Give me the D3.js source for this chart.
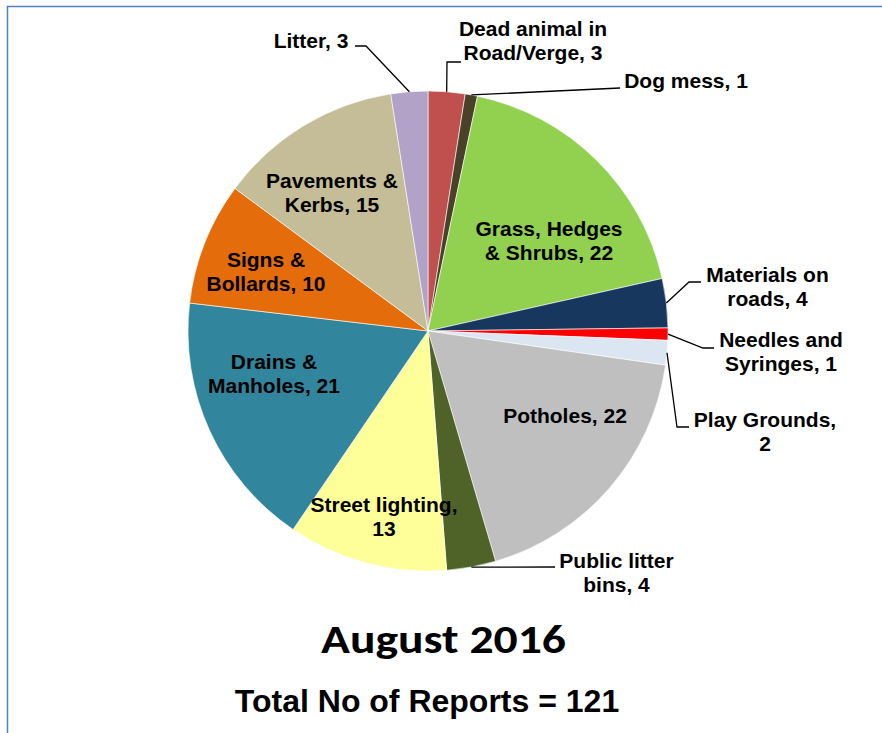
<!DOCTYPE html>
<html>
<head>
<meta charset="utf-8">
<script src="https://cdn.jsdelivr.net/npm/d3@7"></script>
<style>
  body { margin: 0; background: #fff; }
  svg { display: block; }
</style>
</head>
<body>
<div id="vis"></div>
<script>
// report counts per category, in chart order (clockwise from 12 o'clock)
const categories = ['Dead animal in Road/Verge', 'Dog mess', 'Grass, Hedges & Shrubs', 'Materials on roads',
    'Needles and Syringes', 'Play Grounds', 'Potholes', 'Public litter bins', 'Street lighting',
    'Drains & Manholes', 'Signs & Bollards', 'Pavements & Kerbs', 'Litter']
const counts = [3, 1, 22, 4, 1, 2, 22, 4, 13, 21, 10, 15, 3]
const sliceColors = ['#C0504D', '#4A4129', '#92D050', '#17375E', '#FF0000', '#DCE6F2', '#BFBFBF',
    '#4F6228', '#FFFF99', '#31859C', '#E46C0A', '#C4BD97', '#B3A2C7']
const title = 'August 2016'
const subtitle = 'Total No of Reports = ' + d3.sum(counts)

// label placement (x = centre, y = first baseline, words = words on first line, leader = bend points)
const labelLayout = {
    'Dead animal in Road/Verge': {x: 533, y: 36, words: 3, leader: [[447, 62], [461, 62]]},
    'Dog mess': {x: 686, y: 88, leader: [[620, 88]]},
    'Grass, Hedges & Shrubs': {x: 549, y: 236, words: 2},
    'Materials on roads': {x: 767.5, y: 282, words: 2, leader: [[689, 282], [701, 282]]},
    'Needles and Syringes': {x: 781, y: 347, words: 2, leader: [[703, 348], [714, 348]]},
    'Play Grounds': {x: 765, y: 427, words: 2, leader: [[677, 427], [689, 427]]},
    'Potholes': {x: 565, y: 423},
    'Public litter bins': {x: 616.5, y: 568, words: 2, leader: [[555, 567]]},
    'Street lighting': {x: 384, y: 512, words: 2},
    'Drains & Manholes': {x: 274, y: 368.5, words: 2},
    'Signs & Bollards': {x: 266, y: 267, words: 2},
    'Pavements & Kerbs': {x: 332, y: 188, words: 2},
    'Litter': {x: 311, y: 48, leader: [[366, 46], [355, 46]]}
}

const W = 882, H = 733
const cx = 428, cy = 331, radius = 240
const lineHeight = 24

const svg = d3.select('#vis').append('svg')
    .attr('width', W)
    .attr('height', H)

// chart frame (runs off the right and bottom edges)
svg.append('rect')
    .attr('x', 7.5).attr('y', 6.5)
    .attr('width', 1000).attr('height', 1000)
    .attr('fill', 'none')
    .attr('stroke', '#4F81BD')
    .attr('stroke-width', 1.5)

const colorScale = d3.scaleOrdinal().domain(categories).range(sliceColors)

const data = categories.map((c, i) => ({category: c, value: counts[i]}))
const pie = d3.pie().sort(null).value(d => d.value)
const arcs = pie(data)
const arc = d3.arc().innerRadius(0).outerRadius(radius)

const g = svg.append('g').attr('transform', `translate(${cx},${cy})`)

g.selectAll('path.slice')
    .data(arcs)
    .enter()
    .append('path')
    .attr('class', 'slice')
    .attr('d', arc)
    .attr('fill', d => colorScale(d.data.category))
    .attr('stroke', '#fff')
    .attr('stroke-width', 0.6)

// leader lines start on the rim at each slice's mid angle
const rimPoint = d => {
    const a = (d.startAngle + d.endAngle) / 2
    return [cx + radius * Math.sin(a), cy - radius * Math.cos(a)]
}

svg.selectAll('path.leader')
    .data(arcs.filter(d => labelLayout[d.data.category].leader))
    .enter()
    .append('path')
    .attr('class', 'leader')
    .attr('d', d => d3.line()([rimPoint(d)].concat(labelLayout[d.data.category].leader)))
    .attr('fill', 'none')
    .attr('stroke', '#000')
    .attr('stroke-width', 1.3)

const labels = svg.selectAll('text.lab')
    .data(arcs)
    .enter()
    .append('text')
    .attr('class', 'lab')
    .attr('text-anchor', 'middle')
    .attr('font-family', "'Liberation Sans', Arial, sans-serif")
    .attr('font-weight', 'bold')
    .attr('font-size', '21px')
    .attr('fill', '#000')

labels.each(function (d) {
    const lay = labelLayout[d.data.category]
    const words = (d.data.category + ', ' + d.data.value).split(' ')
    const n = lay.words || words.length
    const lines = [words.slice(0, n).join(' ')]
    if (n < words.length) lines.push(words.slice(n).join(' '))
    d3.select(this).selectAll('tspan')
        .data(lines)
        .enter()
        .append('tspan')
        .attr('x', lay.x)
        .attr('y', (l, i) => lay.y + i * lineHeight)
        .text(l => l)
})

svg.append('text')
    .attr('x', 443.5)
    .attr('y', 653)
    .attr('text-anchor', 'middle')
    .attr('font-family', "Carlito, Lato, 'Open Sans', sans-serif")
    .attr('font-weight', 'bold')
    .attr('font-size', '41px')
    .attr('textLength', 245)
    .attr('lengthAdjust', 'spacingAndGlyphs')
    .attr('fill', '#000')
    .text(title)

svg.append('text')
    .attr('x', 427)
    .attr('y', 712)
    .attr('text-anchor', 'middle')
    .attr('font-family', "'Liberation Sans', Arial, sans-serif")
    .attr('font-weight', 'bold')
    .attr('font-size', '32px')
    .attr('fill', '#000')
    .text(subtitle)
</script>
</body>
</html>
